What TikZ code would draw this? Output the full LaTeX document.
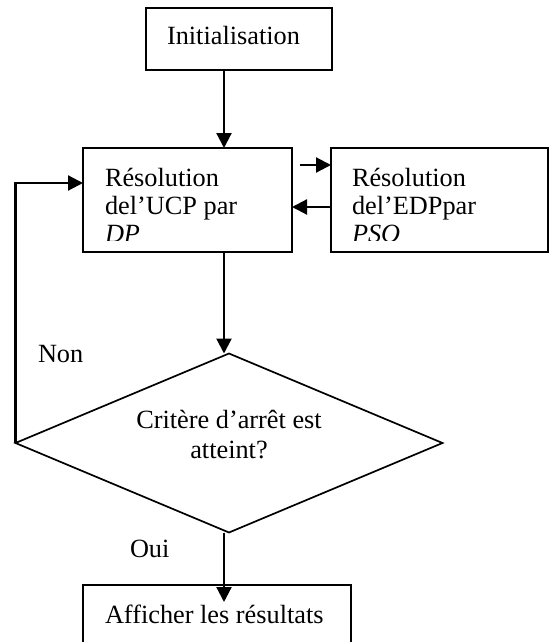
\documentclass[tikz,border=0pt]{standalone}
\usepackage{fontspec}
\setmainfont{Liberation Serif}
\usetikzlibrary{arrows.meta,shapes.geometric}

\begin{document}
\begin{tikzpicture}[x=1pt,y=-1pt,>={Triangle[length=15pt,width=15pt]},
  font=\fontsize{26.3}{28}\selectfont]
  \tikzstyle{box}=[draw,rectangle,line width=1.7pt,inner sep=0pt,outer sep=0pt,anchor=north west]
  \tikzstyle{txt}=[inner sep=0pt,outer sep=0pt]
  \tikzstyle{flow}=[->,line width=2.2pt]

  \clip (0,0) rectangle (550,642);
  \coordinate (axis) at (224,0);

  % boxes
  \node[box,minimum width=186pt,minimum height=62pt]  (init) at (146,8)   {};
  \node[box,minimum width=209pt,minimum height=104pt] (ucp)  at (83,148)  {};
  \node[box,minimum width=217pt,minimum height=104pt] (pso)  at (331,148) {};
  \node[draw,diamond,line width=1.7pt,inner sep=0pt,outer sep=0pt,
        minimum width=427pt,minimum height=179pt]     (dec)  at (229,443) {};
  \node[box,minimum width=268pt,minimum height=80pt]  (res)  at (83,585)  {};

  % texts
  \node[txt,anchor=base west] (tinit) at (167,45) {Initialisation};
  \begin{scope}
    \clip (83,148) rectangle (550,240);
    \node[txt,anchor=north west,align=left] (tucp) at (105,168)
      {Résolution\\del’UCP par\\\textit{DP}};
    \node[txt,anchor=north west,align=left] (tpso) at (352,168)
      {Résolution\\del’EDPpar\\\textit{PSO}};
  \end{scope}
  \node[txt,anchor=north,align=center,font=\fontsize{26.3}{30}\selectfont]
    (tdec) at (229,410) {Critère d’arrêt est\\atteint?};
  \node[txt,anchor=base west] (tres) at (105,623) {Afficher les résultats};
  \node[txt,anchor=base west] (tnon) at (38,362)  {Non};
  \node[txt,anchor=base west] (toui) at (130,557) {Oui};

  % connectors
  \draw[flow] (init.south -| axis) -- (ucp.north -| axis);
  \draw[flow] ([xshift=8pt,yshift=-17pt]ucp.north east) -- ([yshift=-17pt]pso.north west);
  \draw[flow] ([yshift=-59pt]pso.north west) -- ([yshift=-59pt]ucp.north east);
  \draw[flow] (ucp.south -| axis) -- (dec.north -| axis);
  \draw[flow] (dec.west) |- ([yshift=-35pt]ucp.north west);
  \draw[flow] (dec.south -| axis) -- ([yshift=-17pt]res.north -| axis);
\end{tikzpicture}
\end{document}
